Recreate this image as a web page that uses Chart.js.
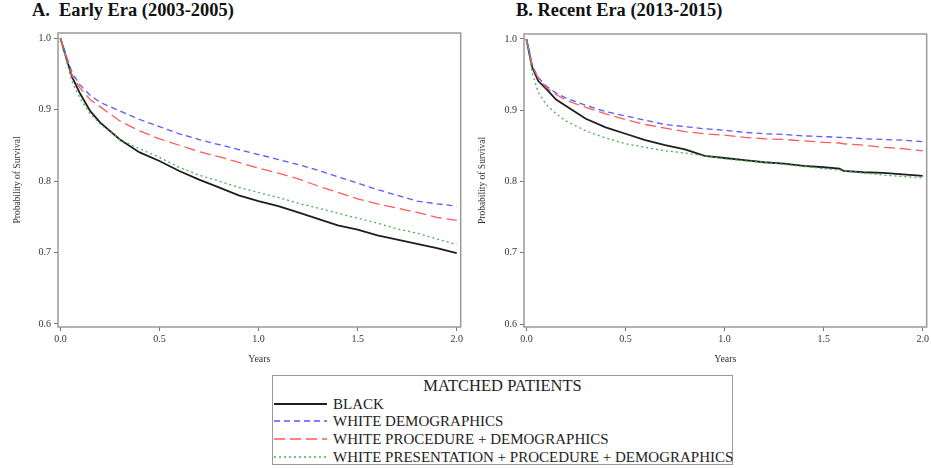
<!DOCTYPE html>
<html>
<head>
<meta charset="utf-8">
<script src="https://cdn.jsdelivr.net/npm/chart.js@4.4.0/dist/chart.umd.min.js"></script>
<style>
  html, body { margin: 0; padding: 0; background: #fff; }
  body { width: 931px; height: 468px; position: relative; overflow: hidden;
         font-family: "Liberation Serif", "DejaVu Serif", serif; color: #222; }
  .title { position: absolute; top: 0px; font-weight: bold; font-size: 18.4px; white-space: pre; color: #111; }
  .panel { position: absolute; top: 0; height: 370px; }
  #legend { position: absolute; left: 272px; top: 375px; width: 459px; height: 88px;
            border: 1.5px solid #999; box-sizing: content-box; }
  #legend .head { text-align: center; font-size: 16.5px; line-height: 18px; margin-top: 1px; }
  #legend .row { position: absolute; left: 0; height: 18px; font-size: 15px; line-height: 18px; }
  #legend .row svg { position: absolute; left: 1px; top: 5px; }
  #legend .row span { position: absolute; left: 60px; white-space: nowrap; }
</style>
</head>
<body>
<div class="title" style="left:32px">A.  Early Era (2003-2005)</div>
<div class="title" style="left:516px">B. Recent Era (2013-2015)</div>
<div class="panel" style="left:0;width:465px"><canvas id="chartA" width="465" height="370"></canvas></div>
<div class="panel" style="left:465px;width:466px"><canvas id="chartB" width="466" height="370"></canvas></div>
<div id="legend"><div class="head">MATCHED PATIENTS</div></div>

<script>
// ---- Data ----
const X_TICKS = [0, 0.5, 1.0, 1.5, 2.0];
const Y_TICKS = [0.6, 0.7, 0.8, 0.9, 1.0];

const SERIES_NAMES = [
  'BLACK',
  'WHITE DEMOGRAPHICS',
  'WHITE PROCEDURE + DEMOGRAPHICS',
  'WHITE PRESENTATION + PROCEDURE + DEMOGRAPHICS'
];

// Panel A: Early Era
const TIMES_A = [0, 0.03, 0.06, 0.1, 0.15, 0.2, 0.3, 0.4, 0.5, 0.6, 0.7, 0.8, 0.9, 1.0, 1.1, 1.2, 1.3, 1.4, 1.5, 1.6, 1.7, 1.8, 1.9, 2.0];
const BLACK_A = [1.0, 0.972, 0.945, 0.922, 0.898, 0.882, 0.858, 0.840, 0.828, 0.814, 0.802, 0.791, 0.780, 0.772, 0.765, 0.756, 0.747, 0.738, 0.732, 0.724, 0.718, 0.712, 0.706, 0.699];
const WDEMO_A = [1.0, 0.975, 0.951, 0.934, 0.920, 0.910, 0.898, 0.886, 0.876, 0.866, 0.858, 0.851, 0.844, 0.837, 0.830, 0.823, 0.815, 0.806, 0.797, 0.788, 0.780, 0.772, 0.768, 0.765];
const WPROC_A = [1.0, 0.973, 0.947, 0.930, 0.914, 0.904, 0.884, 0.870, 0.859, 0.850, 0.841, 0.834, 0.826, 0.818, 0.811, 0.803, 0.793, 0.784, 0.775, 0.768, 0.762, 0.756, 0.749, 0.745];
const WPRES_A = [1.0, 0.968, 0.938, 0.915, 0.894, 0.880, 0.858, 0.845, 0.833, 0.819, 0.808, 0.800, 0.791, 0.784, 0.777, 0.769, 0.762, 0.755, 0.748, 0.741, 0.733, 0.727, 0.719, 0.711];

// Panel B: Recent Era
const TIMES_B = [0, 0.03, 0.06, 0.1, 0.15, 0.2, 0.3, 0.4, 0.5, 0.6, 0.7, 0.8, 0.9, 1.0, 1.1, 1.2, 1.3, 1.4, 1.5, 1.58, 1.6, 1.7, 1.8, 1.9, 2.0];
const BLACK_B = [1.0, 0.960, 0.941, 0.930, 0.915, 0.906, 0.888, 0.876, 0.867, 0.858, 0.851, 0.845, 0.836, 0.833, 0.830, 0.827, 0.825, 0.822, 0.820, 0.818, 0.815, 0.813, 0.812, 0.810, 0.808];
const WDEMO_B = [1.0, 0.962, 0.946, 0.934, 0.924, 0.917, 0.907, 0.898, 0.892, 0.886, 0.880, 0.877, 0.874, 0.872, 0.869, 0.867, 0.866, 0.864, 0.863, 0.862, 0.862, 0.860, 0.859, 0.858, 0.856];
const WPROC_B = [1.0, 0.962, 0.945, 0.932, 0.922, 0.914, 0.904, 0.895, 0.887, 0.880, 0.875, 0.870, 0.867, 0.865, 0.862, 0.860, 0.859, 0.857, 0.855, 0.854, 0.853, 0.851, 0.848, 0.846, 0.843];
const WPRES_B = [1.0, 0.952, 0.925, 0.908, 0.895, 0.885, 0.871, 0.861, 0.853, 0.848, 0.843, 0.840, 0.836, 0.832, 0.829, 0.827, 0.824, 0.821, 0.818, 0.816, 0.815, 0.812, 0.809, 0.807, 0.805];

// ---- Styles ----
const LINE_STYLES = [
  { color: '#1e1e1e', width: 1.8, dash: [] },
  { color: '#5a5aff', width: 1.3, dash: [6, 4] },
  { color: '#ff5a5a', width: 1.3, dash: [11, 5] },
  { color: '#4caf50', width: 1.3, dash: [2, 3] }
];

const FONT = '"Liberation Serif", "DejaVu Serif", serif';

// draws the full box round the plot area
const framePlugin = {
  id: 'frame',
  afterDraw(chart) {
    const { ctx, chartArea: a } = chart;
    ctx.save();
    ctx.strokeStyle = '#999';
    ctx.lineWidth = 1.5;
    ctx.strokeRect(a.left, a.top, a.right - a.left, a.bottom - a.top);
    ctx.restore();
  }
};

function makeChart(id, times, seriesList, pad) {
  const datasets = seriesList.map((vals, i) => ({
    label: SERIES_NAMES[i],
    data: vals.map((v, k) => ({ x: times[k], y: v })),
    borderColor: LINE_STYLES[i].color,
    borderWidth: LINE_STYLES[i].width,
    borderDash: LINE_STYLES[i].dash,
    pointRadius: 0,
    tension: 0,
    fill: false
  }));
  // draw black on top
  datasets.reverse();

  return new Chart(document.getElementById(id), {
    type: 'line',
    data: { datasets },
    options: {
      responsive: false,
      animation: false,
      layout: { padding: { left: 0, top: pad.top, right: pad.right, bottom: 0 } },
      plugins: { legend: { display: false }, tooltip: { enabled: false } },
      scales: {
        x: {
          type: 'linear',
          min: -0.012, max: 2.02,
          afterBuildTicks: (ax) => { ax.ticks = X_TICKS.map(v => ({ value: v })); },
          afterFit: (ax) => { ax.height = 43; },
          grid: { drawOnChartArea: false, drawTicks: true, tickLength: 4, color: '#777' },
          border: { display: false },
          ticks: { padding: 2, color: '#333', font: { family: FONT, size: 10 },
                   callback: (v) => v.toFixed(1), maxRotation: 0 },
          title: { display: true, text: 'Years', color: '#333', font: { family: FONT, size: 10 },
                   padding: { top: 0, bottom: 5 } }
        },
        y: {
          min: 0.5958, max: 1.007,
          afterBuildTicks: (ax) => { ax.ticks = Y_TICKS.map(v => ({ value: v })); },
          afterFit: (ax) => { ax.width = pad.left; },
          grid: { drawOnChartArea: false, drawTicks: true, tickLength: 4, color: '#777' },
          border: { display: false },
          ticks: { padding: 3, color: '#333', font: { family: FONT, size: 10 },
                   callback: (v) => v.toFixed(1) },
          title: { display: true, text: 'Probability of Survival', color: '#333',
                   font: { family: FONT, size: 9.5 }, padding: { top: 12, bottom: 0 } }
        }
      }
    },
    plugins: [framePlugin]
  });
}

makeChart('chartA', TIMES_A, [BLACK_A, WDEMO_A, WPROC_A, WPRES_A], { left: 58, top: 33, right: 4 });
makeChart('chartB', TIMES_B, [BLACK_B, WDEMO_B, WPROC_B, WPRES_B], { left: 59, top: 34, right: 4 });

// ---- Legend box ----
const legend = document.getElementById('legend');
const ROW_TOPS = [19, 36, 54, 72];
SERIES_NAMES.forEach((name, i) => {
  const st = LINE_STYLES[i];
  const row = document.createElement('div');
  row.className = 'row';
  row.style.top = ROW_TOPS[i] + 'px';
  row.innerHTML =
    `<svg width="54" height="8"><line x1="0" y1="4" x2="53" y2="4" stroke="${st.color}" ` +
    `stroke-width="${st.width}" stroke-dasharray="${st.dash.join(' ')}"/></svg>` +
    `<span>${name}</span>`;
  legend.appendChild(row);
});
</script>
</body>
</html>
